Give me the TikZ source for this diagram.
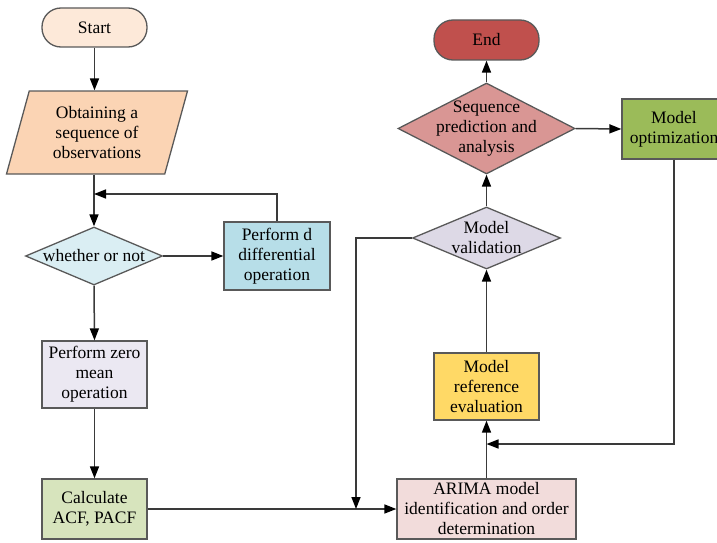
\documentclass[tikz,border=0pt]{standalone}
\usepackage{fontspec}
\setmainfont{Liberation Serif}
\usetikzlibrary{positioning, arrows.meta, shapes.geometric}
\definecolor{boxline}{HTML}{595959}
\definecolor{wire}{HTML}{3A3A3A}
\definecolor{startfill}{HTML}{FDE9D9}
\definecolor{obsfill}{HTML}{FBD4B4}
\definecolor{askfill}{HTML}{DAEEF3}
\definecolor{difffill}{HTML}{B7DEE8}
\definecolor{zerofill}{HTML}{EBE8F2}
\definecolor{acffill}{HTML}{D7E4BD}
\definecolor{arimafill}{HTML}{F2DCDB}
\definecolor{evalfill}{HTML}{FFD966}
\definecolor{validfill}{HTML}{DDD9E6}
\definecolor{seqfill}{HTML}{D99694}
\definecolor{endfill}{HTML}{C0504D}
\definecolor{optfill}{HTML}{9BBB59}

\begin{document}
\begin{tikzpicture}[x=1pt, y=-1pt, >={Triangle[length=12pt,width=9pt,color=black]},
    base/.style={draw=boxline, line width=1.3pt, align=center, inner sep=2pt,
        font=\fontsize{17.5}{20}\selectfont},
    terminal/.style={base, rectangle, rounded corners=19pt, minimum width=105pt, minimum height=39pt},
    process/.style={base, rectangle, minimum width=105pt},
    decision/.style={base, diamond, inner sep=-10pt},
    io/.style={base, trapezium, trapezium left angle=68, trapezium right angle=112,
        trapezium stretches body, minimum width=181pt, minimum height=83pt},
    wireline/.style={draw=wire, line width=1.5pt}]
    \path[use as bounding box, clip] (0,0) rectangle (717,543);

    % left column
    \node [terminal, fill=startfill] (start) at (94.5,27.5) {Start};
    \node [io, fill=obsfill] (obs) at (97,132.5) {Obtaining a\\sequence of\\observations};
    \node [decision, fill=askfill, shape aspect=2.36, minimum width=137pt, minimum height=58pt]
        (ask) at (94,256) {whether or not};
    \node [process, fill=difffill, minimum width=106pt, minimum height=68pt]
        (diff) at (277,256) {Perform d\\differential\\operation};
    \node [process, fill=zerofill, minimum height=67pt] (zero) at (94.5,374.5) {Perform zero\\mean\\operation};
    \node [process, fill=acffill, minimum height=60pt] (acf) at (94.5,509) {Calculate\\ACF, PACF};

    % right column
    \node [process, fill=arimafill, minimum width=179pt, minimum height=60pt]
        (arima) at (486.5,509) {ARIMA model\\identification and order\\determination};
    \node [process, fill=evalfill, minimum height=67pt] (eval) at (486.5,386.5) {Model\\reference\\evaluation};
    \node [decision, fill=validfill, shape aspect=2.39, minimum width=148pt, minimum height=62pt]
        (valid) at (486.5,238) {Model\\validation};
    \node [decision, fill=seqfill, shape aspect=1.945, minimum width=177pt, minimum height=91pt]
        (seq) at (486.5,128.5) {Sequence\\prediction and\\analysis};
    \node [terminal, fill=endfill, minimum height=40pt] (end) at (486.5,40) {End};
    \node [process, fill=optfill, minimum width=104pt, minimum height=60pt]
        (opt) at (674,129) {Model\\optimization};

    \coordinate (loop) at (94,194);
    \coordinate (join) at (356,509);
    \coordinate (back) at (486.5,444);

    \draw [wireline, ->] (start.south) -- (start.south |- obs.north);
    \draw [wireline, ->] (obs.south -| ask.north) -- (ask.north);
    \draw [wireline, ->] (ask.east) -- (diff.west);
    \draw [wireline, ->] (diff.north) |- (loop);
    \draw [wireline, ->] (ask.south) -- (zero.north);
    \draw [wireline, ->] (zero.south) -- (acf.north);
    \draw [wireline, ->] (acf.east) -- (arima.west);
    \draw [wireline, ->] (valid.west) -| (join);
    \draw [wireline, ->] (arima.north) -- (eval.south);
    \draw [wireline, ->] (opt.south) |- (back);
    \draw [wireline, ->] (eval.north) -- (valid.south);
    \draw [wireline, ->] (valid.north) -- (seq.south);
    \draw [wireline, ->] (seq.north) -- (end.south);
    \draw [wireline, ->] (seq.east) -- (opt.west);
\end{tikzpicture}
\end{document}
